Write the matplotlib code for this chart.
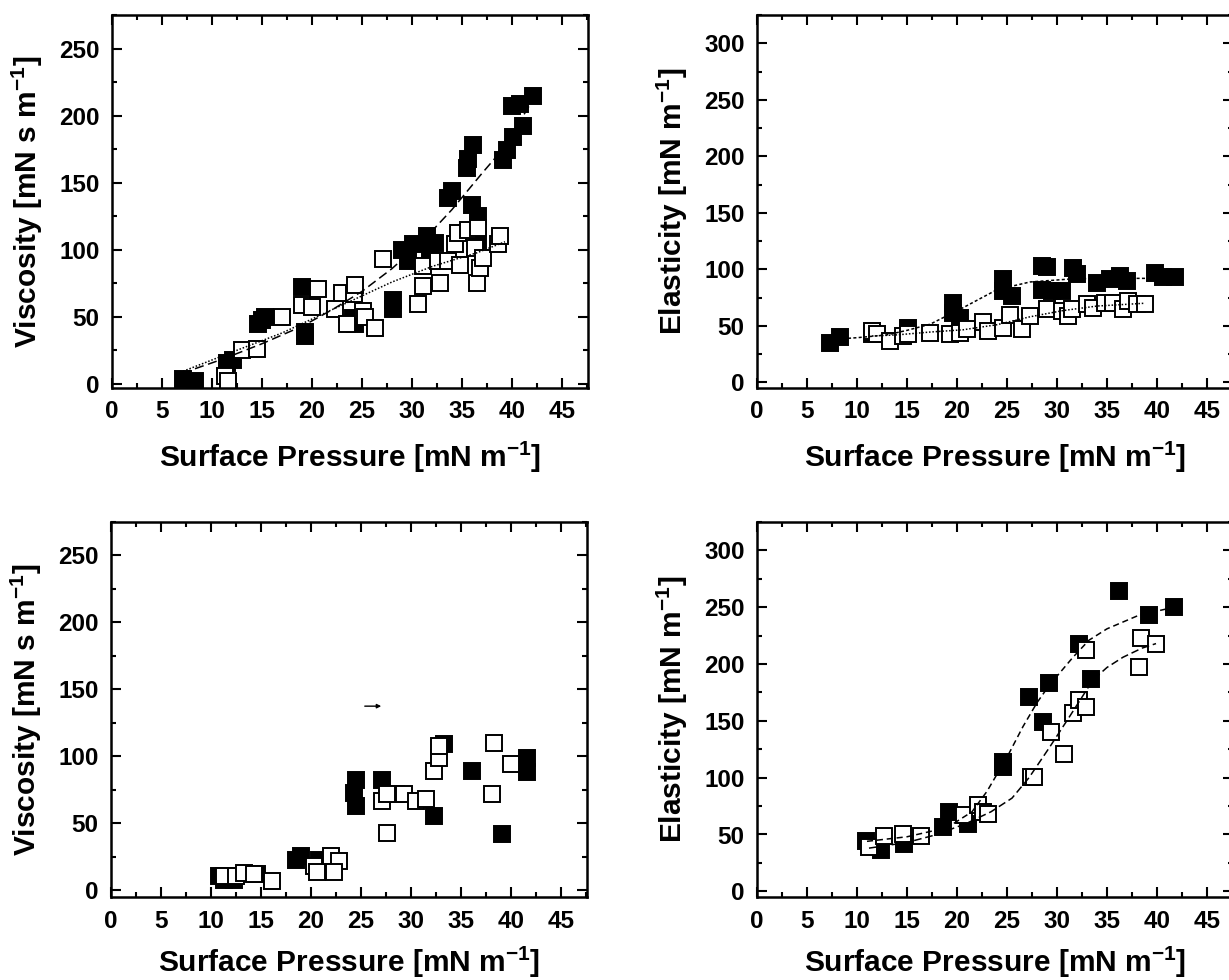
import matplotlib
matplotlib.use("Agg")
import matplotlib.pyplot as plt
from matplotlib.ticker import MultipleLocator

plt.rcParams['font.family'] = ['Liberation Sans', 'DejaVu Sans']
plt.rcParams['font.weight'] = 'bold'
plt.rcParams['mathtext.fontset'] = 'custom'
plt.rcParams['mathtext.rm'] = 'Liberation Sans:bold'
plt.rcParams['mathtext.it'] = 'Liberation Sans:bold'
plt.rcParams['mathtext.bf'] = 'Liberation Sans:bold'

# ---------------- data ----------------
# Top-left: viscosity
tl_filled_x = [7.1, 8.3, 11.5, 12.1, 14.6, 15.0, 15.3, 19.0, 19.3, 19.3, 24.1, 24.3, 28.1, 28.1,
               29.0, 29.6, 30.1, 31.5, 31.8, 32.3, 33.6, 34.0, 35.5, 35.6, 36.1, 36.0, 36.6, 36.6,
               39.1, 39.5, 40.1, 41.1, 40.0, 40.8, 42.1]
tl_filled_y = [4, 2, 16, 17.5, 45, 47.5, 50, 72.5, 39, 36, 49, 44.5, 62.9, 56,
               100, 91.5, 104, 110, 97.8, 105, 138.6, 143.5, 161, 168, 178, 133.6, 125, 107.5,
               167, 174.5, 184, 192, 207.5, 209, 215]
tl_open_x = [11.3, 11.6, 13.0, 14.5, 17.0, 19.0, 20.0, 20.6, 22.3, 23.0, 24.2, 24.3, 23.5, 25.1,
             25.3, 26.3, 27.1, 30.6, 31.1, 31.1, 32.6, 32.8, 33.6, 34.8, 34.3, 34.6, 35.6, 36.6,
             36.3, 36.5, 36.8, 37.1, 38.6, 38.8]
tl_open_y = [6, 2.5, 25, 26, 50, 59, 57.5, 71, 55.7, 68, 67, 74, 44.5, 54.4,
             50, 42, 92.8, 59.4, 73, 87.8, 91.5, 75.5, 91.5, 89, 104, 112.6, 115, 116,
             101.5, 75.5, 86.6, 94, 104, 110]
tl_fit_filled_x = [7.0, 11.1, 15.0, 19.1, 22.1, 25.0, 28.0, 31.0, 34.0, 37.0, 38.5, 40.0, 42.1]
tl_fit_filled_y = [8, 18.6, 30, 43.3, 55.7, 69, 86, 106, 130, 157, 170, 186, 212]
tl_fit_open_x = [6.8, 12.8, 17.0, 22.1, 24.8, 28.0, 32.1, 36.5, 39.3]
tl_fit_open_y = [8.6, 26, 38, 55.7, 65, 76, 87.8, 97.8, 106]

# Top-right: elasticity
tr_filled_x = [7.3, 8.3, 11.5, 15.1, 19.6, 19.6, 20.3, 24.6, 24.6, 25.5, 28.5, 29.0, 28.5, 29.5,
               30.5, 31.6, 32.0, 34.0, 35.3, 36.3, 37.0, 39.8, 40.6, 41.8]
tr_filled_y = [35, 40, 43, 48.5, 70.5, 61, 57, 91, 81, 76.5, 103, 102, 82, 80.8,
               80.8, 101, 95.5, 88, 91, 94, 89.5, 97, 93, 93]
tr_open_x = [11.5, 12.0, 13.3, 14.6, 15.1, 17.3, 19.3, 20.3, 21.0, 22.6, 23.1, 24.6, 25.3, 26.5,
             27.3, 29.0, 30.5, 31.1, 31.5, 33.0, 33.6, 34.8, 35.6, 36.6, 37.1, 38.0, 38.8]
tr_open_y = [45.6, 42.6, 36.8, 41, 43, 44, 42.6, 44, 47, 53, 45.6, 48.5, 60, 47,
             58.8, 64.6, 63, 58.8, 64.6, 69, 66, 70.5, 70.5, 64.6, 72, 69, 69]
tr_fit_filled_x = [7.5, 10, 13, 15, 17.3, 20.6, 24, 27.3, 31.6, 35, 38, 42.2]
tr_fit_filled_y = [38, 39.5, 42, 46, 51.4, 66, 82, 88.8, 91.6, 92, 92, 92]
tr_fit_open_x = [11.5, 14, 17.3, 20.6, 24, 27.3, 30.6, 34, 38.8]
tr_fit_open_y = [41, 42, 44.5, 46.5, 51, 58, 63.5, 67.5, 70]

# Bottom-left: viscosity
bl_filled_x = [10.8, 11.3, 12.3, 14.6, 18.5, 19.0, 20.8, 24.5, 24.3, 24.5, 27.1, 28.5, 33.3, 32.3,
               36.1, 39.1, 41.6, 41.6]
bl_filled_y = [10.5, 8, 8, 12, 23, 25.5, 23, 82, 73, 63, 82, 72, 109, 55.5,
               89, 42, 99, 88]
bl_open_x = [11.3, 12.5, 13.3, 14.3, 16.1, 20.3, 20.6, 22.0, 22.8, 22.3, 27.1, 27.6, 27.6, 29.3,
             30.5, 31.5, 32.3, 32.8, 32.8, 38.3, 38.1, 40.0]
bl_open_y = [10.5, 10.5, 13, 12, 7, 18, 14, 25.5, 22, 14, 67, 72, 43, 72,
             67, 68, 89, 99, 108, 110, 72, 94]

# Bottom-right: elasticity
br_filled_x = [10.9, 12.4, 14.7, 18.6, 19.2, 21.1, 24.6, 24.6, 27.2, 28.6, 29.2, 32.2, 33.4, 36.2,
               39.2, 41.7]
br_filled_y = [44.7, 36, 42, 56.5, 70, 59.4, 114, 109, 171, 149, 183, 218, 187, 264,
               243, 250.6]
br_open_x = [11.2, 12.7, 14.6, 16.4, 20.7, 22.1, 22.6, 23.1, 27.4, 27.7, 29.4, 30.7, 31.6, 32.2,
             32.9, 32.9, 38.2, 38.4, 39.9]
br_open_y = [39, 49, 50.6, 49, 67, 75.6, 70, 68, 100.6, 100.6, 140, 121, 156.5, 168,
             162, 212, 197.6, 222.6, 218]
br_fit_filled_x = [11, 15, 19, 21.5, 23, 25, 26.6, 28, 29.2, 31.6, 33.2, 35, 38.2, 41.7]
br_fit_filled_y = [44, 48, 56, 70, 88, 118, 145, 166, 181, 206, 221, 231, 243, 250]
br_fit_open_x = [11.2, 15, 18, 21, 23.4, 25.5, 27.2, 29.2, 31.2, 33.6, 35, 36.6, 38.5, 39.9]
br_fit_open_y = [38, 43, 50, 60, 70, 82, 100, 126, 153, 186, 197, 206, 214, 218]

x_ticks = [0, 5, 10, 15, 20, 25, 30, 35, 40, 45]
visc_ticks = [0, 50, 100, 150, 200, 250]
elas_ticks = [0, 50, 100, 150, 200, 250, 300]
xlabel = r'Surface Pressure [mN m$^{\mathdefault{-1}}$]'
ylab_visc = r'Viscosity [mN s m$^{\mathdefault{-1}}$]'
ylab_elas = r'Elasticity [mN m$^{\mathdefault{-1}}$]'

# ---------------- figure ----------------
fig = plt.figure(figsize=(12.29, 9.80), dpi=100)
W, H = 1229, 980
def pos(l, t, r, b):
    return [l / W, 1 - b / H, (r - l) / W, (b - t) / H]

ax_tl = fig.add_axes(pos(112, 15, 588, 388))
ax_tr = fig.add_axes(pos(757, 15, 1233, 388))
ax_bl = fig.add_axes(pos(111, 522, 587, 897))
ax_br = fig.add_axes(pos(757, 522, 1233, 897))

MS = 11
MEW = 1.4

def style(ax, ylim, yticks, ylabel, xlabelpad):
    ax.set_xlim(0, 47.6)
    ax.set_ylim(*ylim)
    ax.set_xticks(x_ticks)
    ax.set_xticklabels([str(t) for t in x_ticks], fontweight='bold', fontsize=17.5)
    ax.set_yticks(yticks)
    ax.set_yticklabels([str(t) for t in yticks], fontweight='bold', fontsize=17.5)
    ax.xaxis.set_minor_locator(MultipleLocator(2.5))
    ax.yaxis.set_minor_locator(MultipleLocator(25))
    ax.tick_params(which='both', direction='in', top=True, right=True, width=1.5)
    ax.tick_params(which='major', length=7, pad=9)
    ax.tick_params(which='minor', length=3.5)
    for s in ax.spines.values():
        s.set_linewidth(1.8)
    ax.set_xlabel(xlabel, fontsize=21.5, fontweight='bold', labelpad=xlabelpad)
    ax.set_ylabel(ylabel, fontsize=21.5, fontweight='bold', labelpad=10)

def scatter(ax, fx, fy, ox, oy):
    ax.plot(fx, fy, 's', ms=MS, mfc='black', mec='black', mew=MEW, ls='none', zorder=2)
    ax.plot(ox, oy, 's', ms=MS, mfc='white', mec='black', mew=MEW, ls='none', zorder=2)

# top-left
scatter(ax_tl, tl_filled_x, tl_filled_y, tl_open_x, tl_open_y)
ax_tl.plot(tl_fit_filled_x, tl_fit_filled_y, color='black', lw=1.1, ls=(0, (6, 3)), zorder=3)
ax_tl.plot(tl_fit_open_x, tl_fit_open_y, color='black', lw=1.1, ls=(0, (1, 1.2)), zorder=3)
style(ax_tl, (-3, 275), visc_ticks, ylab_visc, 12)

# top-right
scatter(ax_tr, tr_filled_x, tr_filled_y, tr_open_x, tr_open_y)
ax_tr.plot(tr_fit_filled_x, tr_fit_filled_y, color='black', lw=1.1, ls=(0, (2, 1.5)), zorder=3)
ax_tr.plot(tr_fit_open_x, tr_fit_open_y, color='black', lw=1.1, ls=(0, (1, 1.2)), zorder=3)
style(ax_tr, (-5, 325), elas_ticks, ylab_elas, 12)

# bottom-left
scatter(ax_bl, bl_filled_x, bl_filled_y, bl_open_x, bl_open_y)
ax_bl.annotate('', xy=(27.3, 137.5), xytext=(25.1, 137.5),
               arrowprops=dict(arrowstyle='-|>', lw=1.0, color='black', mutation_scale=6))
style(ax_bl, (-5, 275), visc_ticks, ylab_visc, 9)

# bottom-right
scatter(ax_br, br_filled_x, br_filled_y, br_open_x, br_open_y)
ax_br.plot(br_fit_filled_x, br_fit_filled_y, color='black', lw=1.1, ls=(0, (4, 2.5)), zorder=3)
ax_br.plot(br_fit_open_x, br_fit_open_y, color='black', lw=1.1, ls=(0, (5, 2.5)), zorder=3)
style(ax_br, (-5, 325), elas_ticks, ylab_elas, 9)

fig.savefig('out.png', dpi=100)
